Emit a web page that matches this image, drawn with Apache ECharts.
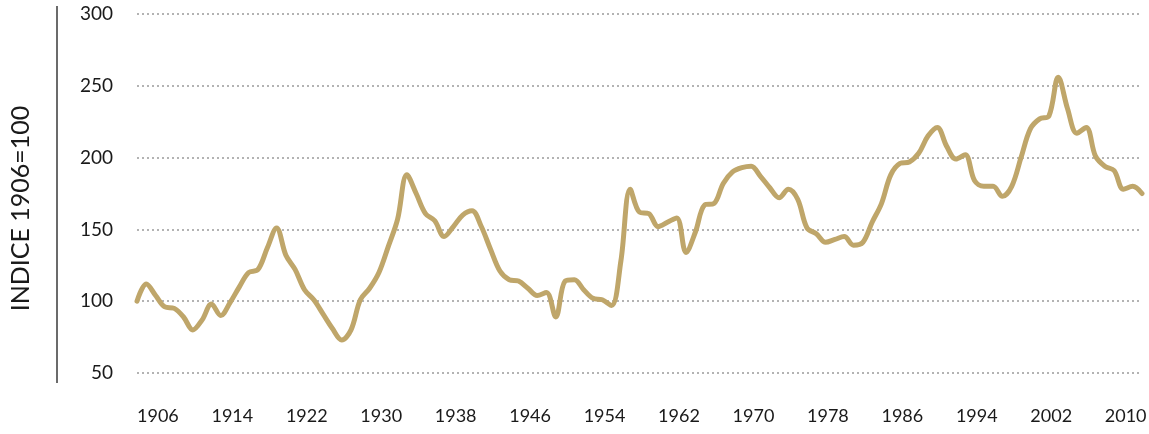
<!DOCTYPE html>
<html>
<head>
<meta charset="utf-8">
<script src="https://cdn.jsdelivr.net/npm/echarts@6/dist/echarts.min.js"></script>
<style>
  html, body { margin: 0; padding: 0; background: #ffffff; }
  #chart { width: 1149px; height: 434px; }
</style>
</head>
<body>
<div id="chart"></div>
<script>
// Years (categories)
const years = [];
for (let y = 1906; y <= 2014; y++) years.push(String(y));

// Index values (1906 = 100)
const values1906_1930 = [100, 112, 104, 96, 95, 89, 80, 87, 98, 90, 99, 110, 120, 122, 137, 151, 132, 122, 108, 101, 91, 81, 73, 80, 101];
const values1931_1955 = [109, 120, 138, 157, 188, 175, 161, 156, 145, 152, 160, 163, 152, 136, 121, 115, 114, 109, 104, 106, 89, 114, 115, 108, 102];
const values1956_1980 = [101, 97, 128, 178, 162, 161, 152, 155, 158, 134, 148, 167, 168, 182, 190, 193, 194, 187, 179, 172, 178, 171, 151, 147, 141];
const values1981_2005 = [143, 145, 139, 141, 155, 168, 188, 196, 197, 203, 215, 221, 208, 199, 202, 184, 180, 180, 173, 180, 200, 220, 227, 229, 256];
const values2006_2014 = [234, 217, 221, 201, 194, 191, 178, 180, 175];

const values = [].concat(values1906_1930, values1931_1955, values1956_1980, values1981_2005, values2006_2014);

const yTicks = { min: 50, max: 300, interval: 50 };
const yTitle = 'INDICE 1906=100';

const chart = echarts.init(document.getElementById('chart'));
chart.setOption({
  backgroundColor: '#ffffff',
  animation: false,
  textStyle: { fontFamily: 'Lato' },
  grid: { left: 137, right: 7, top: 14, bottom: 61, containLabel: false, outerBoundsMode: 'none' },
  graphic: [{
    type: 'line',
    shape: { x1: 57, y1: 6, x2: 57, y2: 383 },
    style: { stroke: '#6b6b6b', lineWidth: 2 }
  }],
  xAxis: {
    type: 'category',
    data: years,
    boundaryGap: false,
    axisLine: { show: false },
    axisTick: { show: false },
    splitLine: { show: false },
    axisLabel: {
      interval: 7,
      align: 'left',
      margin: 34,
      color: '#1a1a1a',
      fontSize: 18,
      fontFamily: 'Lato'
    }
  },
  yAxis: {
    type: 'value',
    min: yTicks.min,
    max: yTicks.max,
    interval: yTicks.interval,
    name: yTitle,
    nameLocation: 'middle',
    nameRotate: 90,
    nameGap: 104,
    nameTextStyle: { color: '#1a1a1a', fontSize: 25, fontFamily: 'Lato', padding: [0, 30, 0, 0] },
    axisLine: { show: false },
    axisTick: { show: false },
    axisLabel: { margin: 24, color: '#1a1a1a', fontSize: 19, fontFamily: 'Lato' },
    splitLine: { show: true, lineStyle: { color: '#9a9a9a', width: 1.5, type: [2, 3] } }
  },
  series: [{
    type: 'line',
    data: values,
    smooth: 0.35,
    symbol: 'none',
    lineStyle: { color: '#BFA66A', width: 5, cap: 'round', join: 'round' },
    z: 3
  }]
});
</script>
</body>
</html>
